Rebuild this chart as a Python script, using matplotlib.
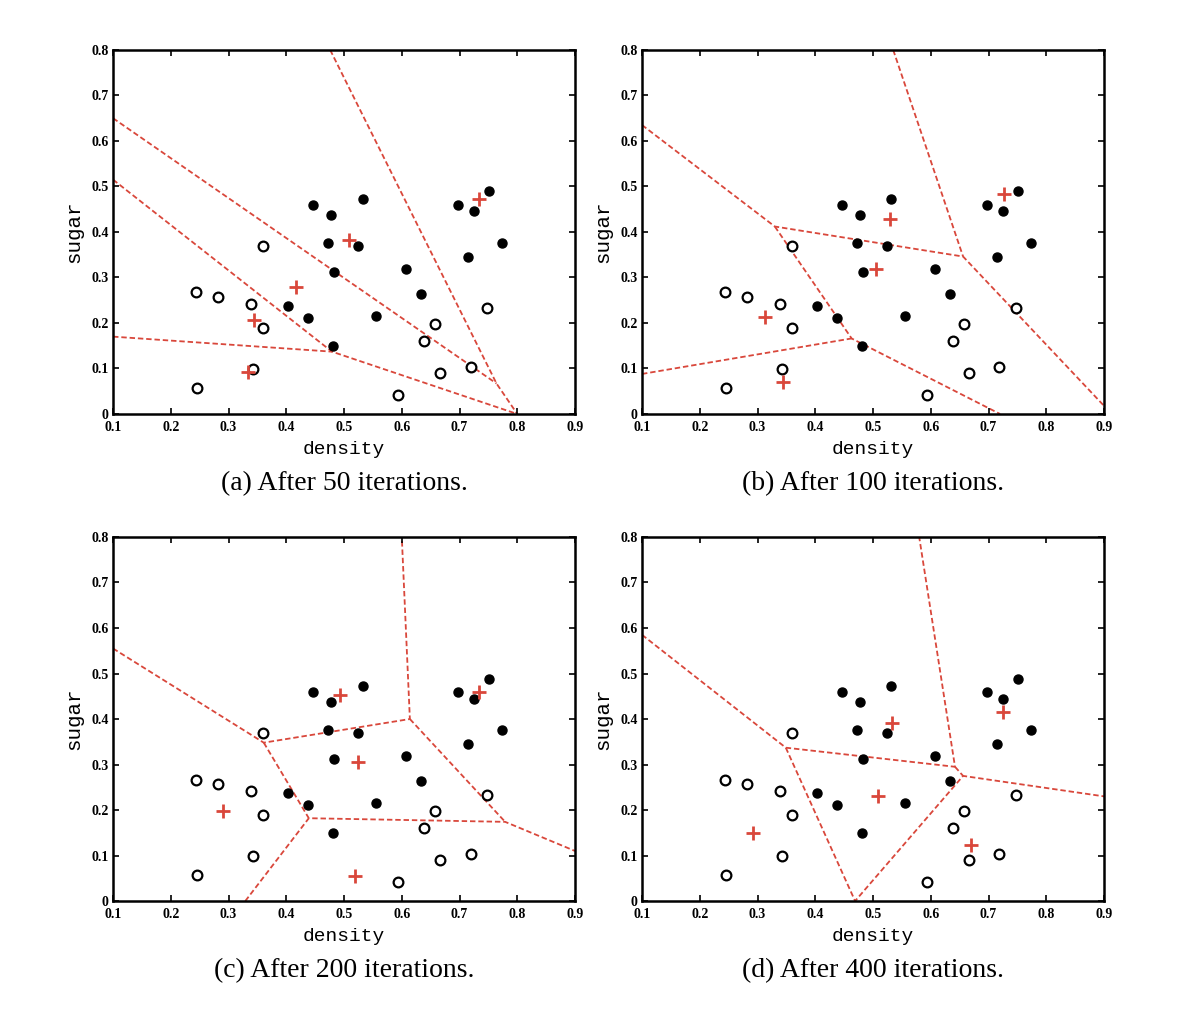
import matplotlib
matplotlib.use("Agg")
import matplotlib.pyplot as plt

# watermelon data set: density, sugar, class (1 = good, 0 = bad)
density = [0.697, 0.774, 0.634, 0.608, 0.556, 0.403, 0.481, 0.437, 0.666, 0.243,
           0.245, 0.343, 0.639, 0.657, 0.360, 0.593, 0.719, 0.359, 0.339, 0.282,
           0.748, 0.714, 0.483, 0.478, 0.525, 0.751, 0.532, 0.473, 0.725, 0.446]
sugar = [0.460, 0.376, 0.264, 0.318, 0.215, 0.237, 0.149, 0.211, 0.091, 0.267,
         0.057, 0.099, 0.161, 0.198, 0.370, 0.042, 0.103, 0.188, 0.241, 0.257,
         0.232, 0.346, 0.312, 0.437, 0.369, 0.489, 0.472, 0.376, 0.445, 0.459]
good = [1, 1, 1, 1, 1, 1, 1, 1, 0, 0, 0, 0, 0, 0, 0, 0, 0, 0, 0, 0,
        0, 1, 1, 1, 1, 1, 1, 1, 1, 1]

captions = ["(a) After 50 iterations.", "(b) After 100 iterations.",
            "(c) After 200 iterations.", "(d) After 400 iterations."]

# prototype vectors
proto_x = [[0.733, 0.509, 0.416, 0.344, 0.334],
           [0.727, 0.529, 0.506, 0.313, 0.345],
           [0.733, 0.493, 0.524, 0.290, 0.519],
           [0.725, 0.533, 0.509, 0.292, 0.670]]
proto_y = [[0.472, 0.382, 0.278, 0.207, 0.093],
           [0.484, 0.428, 0.318, 0.213, 0.070],
           [0.460, 0.453, 0.306, 0.198, 0.055],
           [0.416, 0.392, 0.231, 0.150, 0.123]]

# cluster boundaries (polylines)
bounds = [
    [[(0.1, 0.65), (0.764, 0.067)],
     [(0.476, 0.8), (0.764, 0.067), (0.8, 0.0)],
     [(0.1, 0.515), (0.479, 0.137), (0.8, 0.0)],
     [(0.1, 0.17), (0.479, 0.137)]],
    [[(0.1, 0.635), (0.330, 0.412), (0.656, 0.346), (0.9, 0.018)],
     [(0.535, 0.8), (0.656, 0.346)],
     [(0.330, 0.412), (0.463, 0.166), (0.720, 0.0)],
     [(0.1, 0.088), (0.463, 0.166)]],
    [[(0.1, 0.555), (0.361, 0.348), (0.614, 0.400), (0.600, 0.8)],
     [(0.361, 0.348), (0.439, 0.182), (0.779, 0.174), (0.9, 0.11)],
     [(0.329, 0.0), (0.439, 0.182)],
     [(0.614, 0.400), (0.779, 0.174)]],
    [[(0.1, 0.585), (0.349, 0.337), (0.642, 0.295), (0.580, 0.8)],
     [(0.349, 0.337), (0.469, 0.0), (0.656, 0.275), (0.9, 0.23)],
     [(0.642, 0.295), (0.656, 0.275)]],
]

xticks = [0.1, 0.2, 0.3, 0.4, 0.5, 0.6, 0.7, 0.8, 0.9]
yticks = [0, 0.1, 0.2, 0.3, 0.4, 0.5, 0.6, 0.7, 0.8]
ytick_labels = ["0", "0.1", "0.2", "0.3", "0.4", "0.5", "0.6", "0.7", "0.8"]

red = "#d9473b"

fig = plt.figure(figsize=(12, 10.09), dpi=100)
lefts = [0.0942, 0.535, 0.0942, 0.535]
bottoms = [0.5897, 0.5897, 0.107, 0.107]

for i in range(4):
    ax = fig.add_axes([lefts[i], bottoms[i], 0.385, 0.3608])

    for line in bounds[i]:
        xs = [p[0] for p in line]
        ys = [p[1] for p in line]
        ax.plot(xs, ys, color=red, lw=1.3, dashes=(3, 1.6), zorder=1)

    gx = [d for d, g in zip(density, good) if g == 1]
    gy = [s for s, g in zip(sugar, good) if g == 1]
    bx = [d for d, g in zip(density, good) if g == 0]
    by = [s for s, g in zip(sugar, good) if g == 0]
    ax.plot(gx, gy, 'o', color='black', ms=6.5, zorder=3)
    ax.plot(bx, by, 'o', mfc='white', mec='black', mew=1.6, ms=7, zorder=3)
    ax.plot(proto_x[i], proto_y[i], '+', color=red, ms=9.5, mew=2, zorder=4)

    ax.set_xlim(0.1, 0.9)
    ax.set_ylim(0, 0.8)
    ax.set_xticks(xticks)
    ax.set_xticklabels([str(t) for t in xticks])
    ax.set_yticks(yticks)
    ax.set_yticklabels(ytick_labels)
    ax.tick_params(direction='in', top=True, right=True, length=4, width=1.2)
    ax.tick_params(axis='x', pad=5)
    ax.tick_params(axis='y', pad=3)
    for lab in ax.get_xticklabels() + ax.get_yticklabels():
        lab.set_fontfamily('Liberation Serif')
        lab.set_fontweight('bold')
        lab.set_fontsize(10)
    for sp in ax.spines.values():
        sp.set_linewidth(1.8)

    ax.set_xlabel('density', family='Liberation Mono', fontsize=14, labelpad=5)
    ax.set_ylabel('sugar', family='Liberation Mono', fontsize=15, labelpad=6)
    ax.text(0.5, -0.192, captions[i], transform=ax.transAxes, ha='center', va='center',
            family='Liberation Serif', fontsize=20)

fig.savefig('out.png', dpi=100, facecolor='white')
